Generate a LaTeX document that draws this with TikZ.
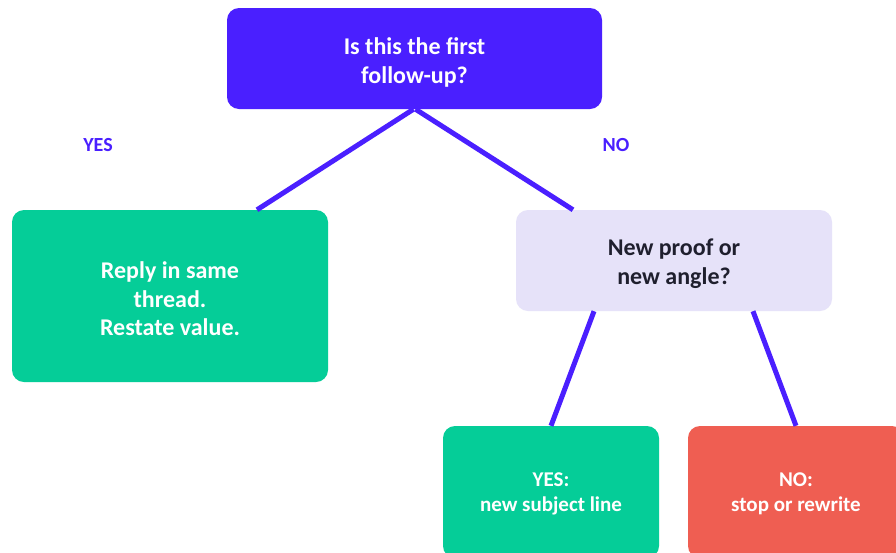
\documentclass[tikz,border=0pt]{standalone}
\usepackage{fontspec}
\setmainfont{Carlito}
\definecolor{cpurple}{HTML}{4A1FFF}
\definecolor{cgreen}{HTML}{05CD98}
\definecolor{cred}{HTML}{EF5E52}
\definecolor{clav}{HTML}{E6E2F9}
\definecolor{cdark}{HTML}{1F1F2E}
\begin{document}
\begin{tikzpicture}[x=1pt,y=-1pt,
  box/.style={rounded corners=12pt, inner sep=0pt},
  txt/.style={align=center, inner sep=0pt, font=\fontsize{24}{29}\selectfont\bfseries},
  small/.style={align=center, inner sep=0pt, font=\fontsize{21}{25}\selectfont\bfseries},
  conn/.style={draw=cpurple, line width=5pt},
  lbl/.style={text=cpurple, font=\fontsize{20}{24}\selectfont\bfseries, inner sep=0pt}]
\useasboundingbox (0,0) rectangle (896,552);
\clip (0,0) rectangle (896,552);
\fill[white] (0,0) rectangle (896,552);
\node[box, fill=cpurple, minimum width=375pt, minimum height=101pt] (top) at (414.5,58.5) {};
\node[box, fill=cgreen, minimum width=316pt, minimum height=172pt] (left) at (170,296) {};
\node[box, fill=clav, minimum width=316pt, minimum height=101pt] (mid) at (674,260.5) {};
\node[box, fill=cgreen, minimum width=216pt, minimum height=132pt] (yes) at (551,492) {};
\node[box, fill=cred, minimum width=216pt, minimum height=132pt] (no) at (796,492) {};
\node[txt, text=white] (toptxt) at ([yshift=-3.5pt]top.center) {Is this the first\\follow-up?};
\node[txt, text=white, font=\fontsize{24}{28.5}\selectfont\bfseries] (lefttxt) at ([yshift=-3pt]left.center) {Reply in same\\thread.\\Restate value.};
\node[txt, text=cdark] (midtxt) at ([yshift=-3pt]mid.center) {New proof or\\new angle?};
\node[small, text=white] (yestxt) at ([yshift=-1.5pt]yes.center) {YES:\\new subject line};
\node[small, text=white] (notxt) at ([yshift=-1.5pt]no.center) {NO:\\stop or rewrite};
\draw[conn] ([xshift=-1pt]top.south) -- ([xshift=87pt]left.north);
\draw[conn] ([xshift=1pt]top.south) -- ([xshift=-101pt]mid.north);
\draw[conn] ([xshift=-80pt]mid.south) -- (yes.north);
\draw[conn] ([xshift=79pt]mid.south) -- (no.north);
\node[lbl] (ylbl) at (98,145) {YES};
\node[lbl] (nlbl) at (616,145) {NO};
\end{tikzpicture}
\end{document}
